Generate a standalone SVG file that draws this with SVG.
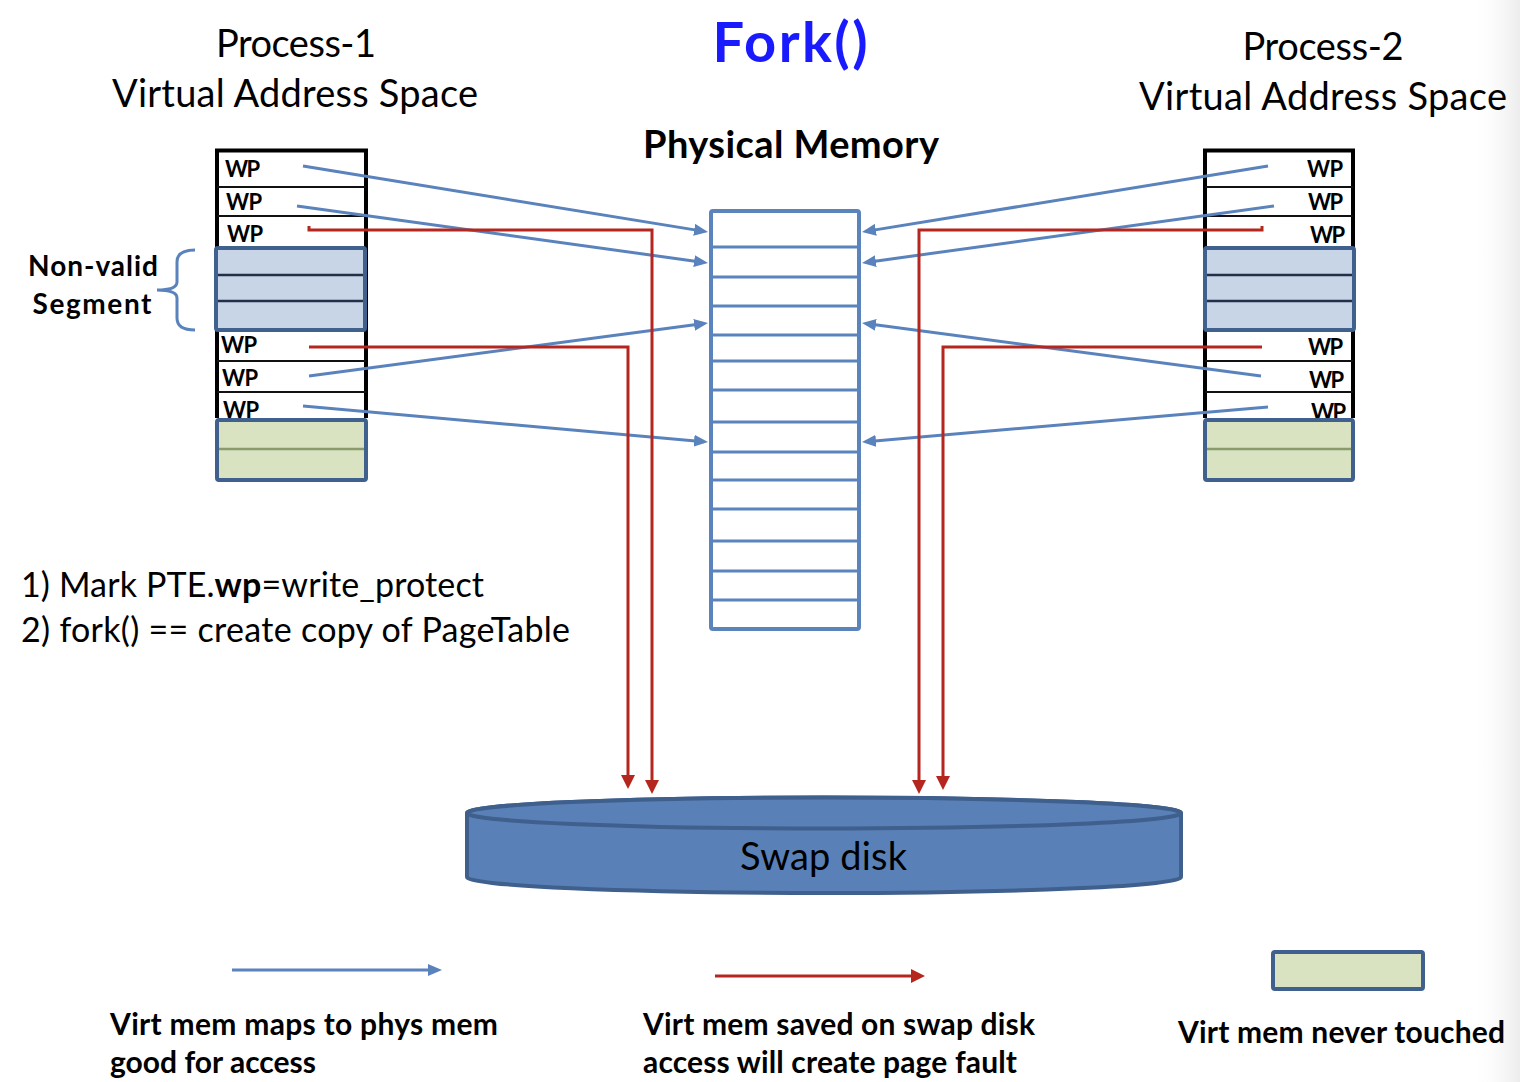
<svg xmlns="http://www.w3.org/2000/svg" width="1520" height="1082" viewBox="0 0 1520 1082">
<style>
  text { font-family: Lato, "Liberation Sans", sans-serif; fill: #000; }
  .title { font-size: 38px; }
  .wp { font-size: 22px; font-weight: 700; }
  .bold { font-weight: 700; }
  .leg { font-size: 30px; font-weight: 700; }
  .list { font-size: 34px; }
  .blue { stroke: #5a82bc; stroke-width: 3; fill: none; }
  .red { stroke: #b5261e; stroke-width: 3; fill: none; }
  .tabline { stroke: #000; stroke-width: 4; fill: none; }
  .rowdiv { stroke: #111; stroke-width: 2; }
  .seg { fill: #c8d5e7; stroke: #40608e; stroke-width: 4; }
  .segdiv { stroke: #22304a; stroke-width: 2.5; }
  .untouched { fill: #d9e3c1; stroke: #40608e; stroke-width: 4; }
  .gdiv { stroke: #899a6c; stroke-width: 2.5; }
  .pm { fill: #fff; stroke: #5b84bc; stroke-width: 4; }
  .pmdiv { stroke: #5b84bc; stroke-width: 3; }
</style>
<defs>
  <marker id="ab" markerUnits="userSpaceOnUse" markerWidth="14" markerHeight="12" viewBox="0 0 14 12" refX="10" refY="6" orient="auto">
    <path d="M0,0 L14,6 L0,12 z" fill="#5a82bc"/>
  </marker>
  <marker id="ar" markerUnits="userSpaceOnUse" markerWidth="14" markerHeight="14" viewBox="0 0 14 14" refX="10" refY="7" orient="auto">
    <path d="M0,0 L14,7 L0,14 z" fill="#b5261e"/>
  </marker>
  <linearGradient id="edge" x1="0" y1="0" x2="1" y2="0">
    <stop offset="0" stop-color="#ffffff" stop-opacity="0"/>
    <stop offset="1" stop-color="#ececec"/>
  </linearGradient>
</defs>
<rect x="0" y="0" width="1520" height="1082" fill="#fff"/>
<rect x="1470" y="0" width="50" height="1082" fill="url(#edge)"/>

<g id="titles">
  <text class="title" x="296" y="57" text-anchor="middle" textLength="160" lengthAdjust="spacing">Process-1</text>
  <text class="title" x="295" y="107" text-anchor="middle" textLength="366" lengthAdjust="spacing">Virtual Address Space</text>
  <text x="790" y="62" text-anchor="middle" style="font-size:56px;font-weight:700;fill:#1a1aff" textLength="155" lengthAdjust="spacing">Fork()</text>
  <text class="title bold" x="791" y="158" text-anchor="middle" textLength="296" lengthAdjust="spacing">Physical Memory</text>
  <text class="title" x="1323" y="60" text-anchor="middle" textLength="161" lengthAdjust="spacing">Process-2</text>
  <text class="title" x="1323" y="110" text-anchor="middle" textLength="368" lengthAdjust="spacing">Virtual Address Space</text>
</g>

<g id="process1">
  <path class="tabline" d="M217,418 V150.5 H366 V418"/>
  <line class="rowdiv" x1="217" y1="187" x2="366" y2="187"/>
  <line class="rowdiv" x1="217" y1="216" x2="366" y2="216"/>
  <line class="rowdiv" x1="217" y1="361" x2="366" y2="361"/>
  <line class="rowdiv" x1="217" y1="392" x2="366" y2="392"/>
  <text class="wp" x="225" y="177" textLength="35" lengthAdjust="spacing">WP</text>
  <text class="wp" x="226" y="210" textLength="36" lengthAdjust="spacing">WP</text>
  <text class="wp" x="227" y="242" textLength="36" lengthAdjust="spacing">WP</text>
  <text class="wp" x="221" y="353" textLength="36" lengthAdjust="spacing">WP</text>
  <text class="wp" x="222" y="386" textLength="36" lengthAdjust="spacing">WP</text>
  <text class="wp" x="223" y="418" textLength="36" lengthAdjust="spacing">WP</text>
  <rect class="seg" x="216" y="248" width="149" height="82" rx="2"/>
  <line class="segdiv" x1="218" y1="275" x2="363" y2="275"/>
  <line class="segdiv" x1="218" y1="301" x2="363" y2="301"/>
  <rect class="untouched" x="217" y="420" width="149" height="60" rx="2"/>
  <line class="gdiv" x1="219" y1="449" x2="364" y2="449"/>
</g>

<g id="nonvalid-label">
  <text class="bold" x="93" y="276" text-anchor="middle" style="font-size:28px" textLength="130" lengthAdjust="spacing">Non-valid</text>
  <text class="bold" x="92" y="314" text-anchor="middle" style="font-size:28px" textLength="119" lengthAdjust="spacing">Segment</text>
  <path class="blue" d="M195,250 Q177,250 177,262 L177,282 Q177,290 157,290 Q177,290 177,298 L177,318 Q177,330 195,330"/>
</g>

<g id="process2">
  <path class="tabline" d="M1205,418 V150.5 H1353 V418"/>
  <line class="rowdiv" x1="1205" y1="187" x2="1353" y2="187"/>
  <line class="rowdiv" x1="1205" y1="216" x2="1353" y2="216"/>
  <line class="rowdiv" x1="1205" y1="361" x2="1353" y2="361"/>
  <line class="rowdiv" x1="1205" y1="392" x2="1353" y2="392"/>
  <text class="wp" x="1343" y="177" text-anchor="end" textLength="36" lengthAdjust="spacing">WP</text>
  <text class="wp" x="1343" y="210" text-anchor="end" textLength="35" lengthAdjust="spacing">WP</text>
  <text class="wp" x="1345" y="243" text-anchor="end" textLength="35" lengthAdjust="spacing">WP</text>
  <text class="wp" x="1343" y="355" text-anchor="end" textLength="35" lengthAdjust="spacing">WP</text>
  <text class="wp" x="1344" y="388" text-anchor="end" textLength="35" lengthAdjust="spacing">WP</text>
  <text class="wp" x="1346" y="420" text-anchor="end" textLength="35" lengthAdjust="spacing">WP</text>
  <rect class="seg" x="1205" y="248" width="149" height="82" rx="2"/>
  <line class="segdiv" x1="1207" y1="275" x2="1352" y2="275"/>
  <line class="segdiv" x1="1207" y1="301" x2="1352" y2="301"/>
  <rect class="untouched" x="1205" y="420" width="148" height="60" rx="2"/>
  <line class="gdiv" x1="1207" y1="449" x2="1351" y2="449"/>
</g>

<g id="physical-memory">
  <rect class="pm" x="711" y="211" width="148" height="418" rx="2"/>
  <line class="pmdiv" x1="711" y1="247" x2="859" y2="247"/>
  <line class="pmdiv" x1="711" y1="277" x2="859" y2="277"/>
  <line class="pmdiv" x1="711" y1="306" x2="859" y2="306"/>
  <line class="pmdiv" x1="711" y1="335" x2="859" y2="335"/>
  <line class="pmdiv" x1="711" y1="361" x2="859" y2="361"/>
  <line class="pmdiv" x1="711" y1="390" x2="859" y2="390"/>
  <line class="pmdiv" x1="711" y1="422" x2="859" y2="422"/>
  <line class="pmdiv" x1="711" y1="452" x2="859" y2="452"/>
  <line class="pmdiv" x1="711" y1="480" x2="859" y2="480"/>
  <line class="pmdiv" x1="711" y1="509" x2="859" y2="509"/>
  <line class="pmdiv" x1="711" y1="541" x2="859" y2="541"/>
  <line class="pmdiv" x1="711" y1="571" x2="859" y2="571"/>
  <line class="pmdiv" x1="711" y1="600" x2="859" y2="600"/>
</g>

<g id="swap-disk">
  <path d="M467,813 L467,877 A357,16 0 0 0 1181,877 L1181,813 A357,15.5 0 0 0 467,813 Z" fill="#5a80b8" stroke="#3f5f8d" stroke-width="4" stroke-linejoin="round"/>
  <ellipse cx="824" cy="813" rx="357" ry="15.5" fill="#5a80b8" stroke="#3f5f8d" stroke-width="4"/>
  <text x="823.5" y="870" text-anchor="middle" style="font-size:38px" textLength="167" lengthAdjust="spacing">Swap disk</text>
</g>

<g id="connectors">
  <line class="blue" x1="303" y1="166" x2="704.05" y2="231.36" marker-end="url(#ab)"/>
  <line class="blue" x1="297" y1="206" x2="704.04" y2="262.45" marker-end="url(#ab)"/>
  <line class="blue" x1="309" y1="376" x2="704.04" y2="323.53" marker-end="url(#ab)"/>
  <line class="blue" x1="303" y1="406" x2="704.02" y2="441.65" marker-end="url(#ab)"/>
  <line class="blue" x1="1268" y1="166" x2="865.95" y2="231.36" marker-end="url(#ab)"/>
  <line class="blue" x1="1274" y1="206" x2="865.96" y2="262.45" marker-end="url(#ab)"/>
  <line class="blue" x1="1261" y1="376" x2="865.96" y2="323.53" marker-end="url(#ab)"/>
  <line class="blue" x1="1268" y1="407" x2="865.98" y2="441.66" marker-end="url(#ab)"/>
  <path class="red" d="M309,226 V230 H652 V790" marker-end="url(#ar)"/>
  <path class="red" d="M309,347 H628 V785" marker-end="url(#ar)"/>
  <path class="red" d="M1262,226 V230 H919 V790" marker-end="url(#ar)"/>
  <path class="red" d="M1262,347 H943 V786" marker-end="url(#ar)"/>
</g>

<g id="steps">
  <text class="list" x="21" y="597" textLength="463" lengthAdjust="spacing">1) Mark PTE.<tspan font-weight="700">wp</tspan>=write_protect</text>
  <text class="list" x="21" y="642" textLength="549" lengthAdjust="spacing">2) fork() == create copy of PageTable</text>
</g>

<g id="legend-mapped">
  <line class="blue" x1="232" y1="970" x2="438" y2="970" marker-end="url(#ab)"/>
  <text class="leg" x="110" y="1035" textLength="388" lengthAdjust="spacing">Virt mem maps to phys mem</text>
  <text class="leg" x="110" y="1073" textLength="206" lengthAdjust="spacing">good for access</text>
</g>

<g id="legend-swapped">
  <line class="red" x1="715" y1="976" x2="921" y2="976" marker-end="url(#ar)"/>
  <text class="leg" x="643" y="1035" textLength="392" lengthAdjust="spacing">Virt mem saved on swap disk</text>
  <text class="leg" x="643" y="1073" textLength="374" lengthAdjust="spacing">access will create page fault</text>
</g>

<g id="legend-untouched">
  <rect class="untouched" x="1273" y="952" width="150" height="37" rx="2"/>
  <text class="leg" x="1178" y="1043" textLength="327" lengthAdjust="spacing">Virt mem never touched</text>
</g>
</svg>
